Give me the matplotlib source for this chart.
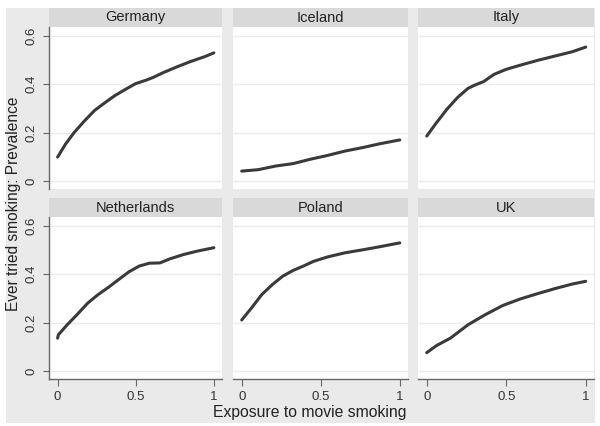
import matplotlib
matplotlib.use("Agg")
import matplotlib.pyplot as plt

plt.rcParams['font.family'] = ['Liberation Sans', 'DejaVu Sans']

countries = ["Germany", "Iceland", "Italy", "Netherlands", "Poland", "UK"]

germany_x = [0.0, 0.05, 0.105, 0.171, 0.237, 0.303, 0.368, 0.434, 0.5, 0.566, 0.61, 0.675, 0.763, 0.85, 0.94, 1.0]
germany_y = [0.099, 0.152, 0.2, 0.248, 0.292, 0.324, 0.354, 0.379, 0.403, 0.417, 0.428, 0.448, 0.472, 0.494, 0.514, 0.53]

iceland_x = [0.0, 0.105, 0.215, 0.325, 0.434, 0.544, 0.654, 0.763, 0.873, 1.0]
iceland_y = [0.041, 0.047, 0.062, 0.072, 0.09, 0.106, 0.124, 0.138, 0.154, 0.17]

italy_x = [0.0, 0.061, 0.127, 0.193, 0.259, 0.303, 0.357, 0.423, 0.5, 0.588, 0.697, 0.807, 0.917, 1.0]
italy_y = [0.186, 0.241, 0.297, 0.345, 0.383, 0.397, 0.411, 0.441, 0.462, 0.479, 0.499, 0.517, 0.535, 0.554]

netherlands_x = [0.0, 0.005, 0.061, 0.127, 0.193, 0.259, 0.325, 0.39, 0.456, 0.522, 0.588, 0.654, 0.719, 0.807, 0.895, 1.0]
netherlands_y = [0.136, 0.15, 0.191, 0.235, 0.281, 0.316, 0.346, 0.378, 0.41, 0.434, 0.446, 0.447, 0.464, 0.482, 0.496, 0.51]

poland_x = [0.0, 0.061, 0.127, 0.193, 0.259, 0.325, 0.39, 0.456, 0.544, 0.654, 0.763, 0.873, 1.0]
poland_y = [0.211, 0.26, 0.316, 0.357, 0.392, 0.416, 0.434, 0.454, 0.472, 0.489, 0.501, 0.514, 0.53]

uk_x = [0.0, 0.061, 0.149, 0.259, 0.368, 0.478, 0.588, 0.697, 0.807, 0.917, 1.0]
uk_y = [0.076, 0.105, 0.136, 0.191, 0.233, 0.271, 0.298, 0.32, 0.341, 0.36, 0.371]

series_x = [germany_x, iceland_x, italy_x, netherlands_x, poland_x, uk_x]
series_y = [germany_y, iceland_y, italy_y, netherlands_y, poland_y, uk_y]

xticks = [0, 0.5, 1]
xticklabels = ["0", "0.5", "1"]
yticks = [0, 0.2, 0.4, 0.6]
yticklabels = ["0", "0.2", "0.4", "0.6"]

W, H = 600, 426
fig = plt.figure(figsize=(W / 100, H / 100), dpi=100)
fig.patch.set_facecolor("white")

def fx(px):
    return px / W

def fy(py):
    return 1 - py / H

# outer gray background
bg = fig.add_axes([fx(6), fy(423), fx(595) - fx(6), fy(8) - fy(423)], zorder=-10)
bg.set_facecolor("#eaeaea")
bg.set_xticks([]); bg.set_yticks([])
for s in bg.spines.values():
    s.set_visible(False)

cols = [(49, 222), (233, 408), (418, 594)]
rows = [(8, 27, 189), (198, 217, 379)]  # strip top, plot top, plot bottom

for i, name in enumerate(countries):
    xs, ys = series_x[i], series_y[i]
    r, c = divmod(i, 3)
    x0, x1 = cols[c]
    st, pt, pb = rows[r]
    # strip
    sax = fig.add_axes([fx(x0), fy(pt), fx(x1) - fx(x0), fy(st) - fy(pt)])
    sax.set_facecolor("#d9d9d9")
    sax.set_xticks([]); sax.set_yticks([])
    for s in sax.spines.values():
        s.set_visible(False)
    sax.text(0.5, 0.5, name, ha="center", va="center", fontsize=10.5,
             color="#222222", transform=sax.transAxes)
    # plot
    ax = fig.add_axes([fx(x0), fy(pb), fx(x1) - fx(x0), fy(pt) - fy(pb)])
    ax.set_facecolor("white")
    ax.set_xlim(-0.055, 1.052)
    ax.set_ylim(-0.033, 0.637)
    for y in yticks:
        ax.axhline(y, color="#ececec", lw=1.0, zorder=1)
    ax.plot(xs, ys, color="#3a3a3a", lw=2.2, solid_capstyle="round",
            solid_joinstyle="round", zorder=3)
    for s in ["top", "right"]:
        ax.spines[s].set_visible(False)
    ax.set_xticks(xticks)
    ax.set_yticks(yticks)
    if c == 0:
        ax.spines["left"].set_color("#666666")
        ax.spines["left"].set_linewidth(1.0)
        ax.set_yticklabels(yticklabels, rotation=90, va="center", fontsize=9.5,
                           color="#333333")
        ax.tick_params(axis="y", length=4, color="#666666", pad=4)
    else:
        ax.spines["left"].set_visible(False)
        ax.tick_params(axis="y", length=0, labelleft=False)
    if r == 1:
        ax.spines["bottom"].set_color("#666666")
        ax.spines["bottom"].set_linewidth(1.0)
        ax.set_xticklabels(xticklabels, fontsize=9.5, color="#333333")
        ax.tick_params(axis="x", length=5, color="#666666", pad=4)
    else:
        ax.spines["bottom"].set_visible(False)
        ax.tick_params(axis="x", length=0, labelbottom=False)

fig.text(fx(310), fy(412), "Exposure to movie smoking", ha="center", va="center",
         fontsize=11.3, color="#222222")
fig.text(fx(14), fy(204), "Ever tried smoking: Prevalence", ha="center", va="center",
         rotation=90, fontsize=11.2, color="#222222")

fig.savefig("out.png", dpi=100, facecolor="white")
